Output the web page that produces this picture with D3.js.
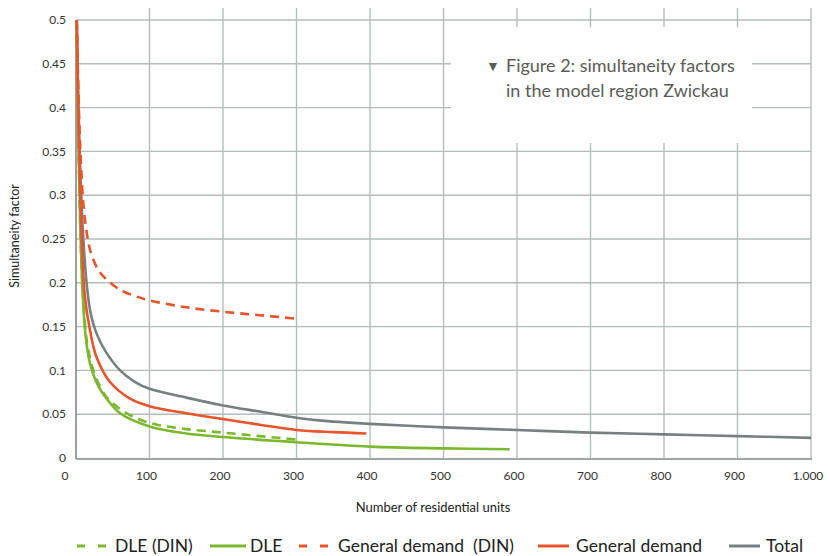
<!DOCTYPE html>
<html>
<head>
<meta charset="utf-8">
<script src="https://cdn.jsdelivr.net/npm/d3@7"></script>
<style>
  html, body { margin: 0; padding: 0; background: #fff; }
  svg { display: block; font-family: Lato, "Open Sans", sans-serif; }
</style>
</head>
<body>
<svg id="chart" width="830" height="556"></svg>
<script>
// Simultaneity factor vs. number of residential units, model region Zwickau
const xTicks = [0, 100, 200, 300, 400, 500, 600, 700, 800, 900, 1000];
const yTicks = [0, 0.05, 0.1, 0.15, 0.2, 0.25, 0.3, 0.35, 0.4, 0.45, 0.5];

// [units, factor]
const dleDin = [[1,0.5],[4,0.33],[8,0.21],[12,0.155],[16,0.127],[26,0.094],[42,0.069],[60,0.056],[83,0.045],[110,0.038],[150,0.033],[200,0.029],[250,0.025],[300,0.021]];
const dle = [[1,0.5],[3,0.38],[6,0.26],[9,0.19],[13,0.14],[19,0.108],[27,0.088],[37,0.073],[60,0.051],[100,0.036],[150,0.028],[200,0.024],[300,0.018],[400,0.013],[500,0.011],[590,0.010]];
const generalDin = [[1,0.5],[5,0.37],[10,0.29],[15,0.255],[20,0.235],[30,0.215],[40,0.205],[60,0.192],[80,0.185],[100,0.18],[150,0.172],[200,0.167],[250,0.163],[300,0.159]];
const general = [[1,0.5],[4,0.36],[8,0.245],[12,0.185],[19,0.146],[28,0.115],[46,0.087],[73,0.068],[100,0.059],[150,0.051],[200,0.0445],[250,0.038],[300,0.032],[350,0.0295],[395,0.028]];
const total = [[1,0.5],[5,0.35],[10,0.25],[15,0.195],[20,0.165],[28,0.142],[40,0.122],[60,0.1],[80,0.087],[100,0.079],[150,0.069],[200,0.06],[250,0.053],[300,0.046],[330,0.043],[400,0.039],[500,0.035],[600,0.032],[700,0.029],[800,0.027],[900,0.025],[1000,0.023]];

const seriesNames = ["DLE (DIN)", "DLE", "General demand  (DIN)", "General demand", "Total"];

const GREEN = "#7cb82f", ORANGE = "#e8542b", GRAY = "#778081";

const series = [
  { name: seriesNames[4], data: total, color: GRAY, dash: null },
  { name: seriesNames[0], data: dleDin, color: GREEN, dash: "9,6" },
  { name: seriesNames[1], data: dle, color: GREEN, dash: null },
  { name: seriesNames[2], data: generalDin, color: ORANGE, dash: "9,6" },
  { name: seriesNames[3], data: general, color: ORANGE, dash: null }
];

const svg = d3.select("#chart");
const plotLeft = 76, plotRight = 811, plotTop = 20, plotBottom = 458;

const x = d3.scaleLinear().domain([0, 1000]).range([plotLeft, plotRight]);
const y = d3.scaleLinear().domain([0, 0.5]).range([plotBottom, plotTop]);

const de = d3.formatLocale({ decimal: ",", thousands: ".", grouping: [3], currency: ["", "€"] });
const fmtX = de.format(",d");
const fmtY = d3.format("~g");

// grid
const grid = svg.append("g").attr("stroke", "#b5bcbd").attr("stroke-width", 1.4);
grid.selectAll("line.h").data(yTicks.filter(d => d > 0)).join("line")
  .attr("class", "h")
  .attr("x1", plotLeft).attr("x2", plotRight)
  .attr("y1", d => y(d)).attr("y2", d => y(d));
grid.selectAll("line.v").data(xTicks.filter(d => d > 0)).join("line")
  .attr("class", "v")
  .attr("x1", d => x(d)).attr("x2", d => x(d))
  .attr("y1", 8).attr("y2", plotBottom);

// y axis line
svg.append("line").attr("x1", plotLeft).attr("x2", plotLeft).attr("y1", plotTop).attr("y2", plotBottom + 1)
  .attr("stroke", "#6f7677").attr("stroke-width", 1.4);

// tick labels
svg.append("g").selectAll("text").data(yTicks).join("text")
  .attr("x", 66).attr("y", d => y(d)).attr("dy", "0.35em")
  .attr("text-anchor", "end").attr("font-size", 12).attr("fill", "#333")
  .text(fmtY);

svg.append("g").selectAll("text").data(xTicks).join("text")
  .attr("x", d => x(d) + (d === 0 ? -11 : -3)).attr("y", 480)
  .attr("text-anchor", "middle").attr("font-size", 12).attr("fill", "#333")
  .text(fmtX);

// axis titles
svg.append("text").attr("x", 433).attr("y", 512).attr("text-anchor", "middle")
  .attr("font-size", 13).attr("fill", "#222").text("Number of residential units");
svg.append("text").attr("transform", "translate(19,236) rotate(-90)")
  .attr("text-anchor", "middle").attr("font-size", 12.5).attr("fill", "#222")
  .text("Simultaneity factor");

// title panel over the grid
svg.append("rect").attr("x", 451).attr("y", 27).attr("width", 301).attr("height", 116).attr("fill", "#fff");
const title = svg.append("g").attr("fill", "#5b5b56").attr("font-size", 18);
title.append("text").attr("x", 486).attr("y", 71).attr("font-size", 14).text("▼");
title.append("text").attr("x", 506).attr("y", 72).text("Figure 2: simultaneity factors");
title.append("text").attr("x", 506).attr("y", 97).text("in the model region Zwickau");

// x axis line
svg.append("line").attr("x1", plotLeft).attr("x2", plotRight + 1).attr("y1", plotBottom + 1).attr("y2", plotBottom + 1)
  .attr("stroke", "#9fa6a7").attr("stroke-width", 2.2);

// curves
const line = d3.line().x(d => x(d[0])).y(d => y(d[1])).curve(d3.curveCatmullRom.alpha(0.5));
svg.append("g").selectAll("path").data(series).join("path")
  .attr("d", d => line(d.data))
  .attr("fill", "none")
  .attr("stroke", d => d.color)
  .attr("stroke-width", 2.6)
  .attr("stroke-dasharray", d => d.dash);

// legend
const legendItems = [
  { name: seriesNames[0], color: GREEN, dash: "8,13", x0: 77, x1: 111, tx: 115 },
  { name: seriesNames[1], color: GREEN, dash: null, x0: 210, x1: 246, tx: 250 },
  { name: seriesNames[2], color: ORANGE, dash: "8,13", x0: 299, x1: 331, tx: 338 },
  { name: seriesNames[3], color: ORANGE, dash: null, x0: 538, x1: 569, tx: 576 },
  { name: seriesNames[4], color: GRAY, dash: null, x0: 729, x1: 760, tx: 766 }
];
const lg = svg.append("g");
lg.selectAll("line").data(legendItems).join("line")
  .attr("x1", d => d.x0).attr("x2", d => d.x1).attr("y1", 546).attr("y2", 546)
  .attr("stroke", d => d.color).attr("stroke-width", 3)
  .attr("stroke-dasharray", d => d.dash);
lg.selectAll("text").data(legendItems).join("text")
  .attr("x", d => d.tx).attr("y", 552).attr("font-size", 17.5).attr("fill", "#222")
  .style("white-space", "pre")
  .text(d => d.name);
</script>
</body>
</html>
